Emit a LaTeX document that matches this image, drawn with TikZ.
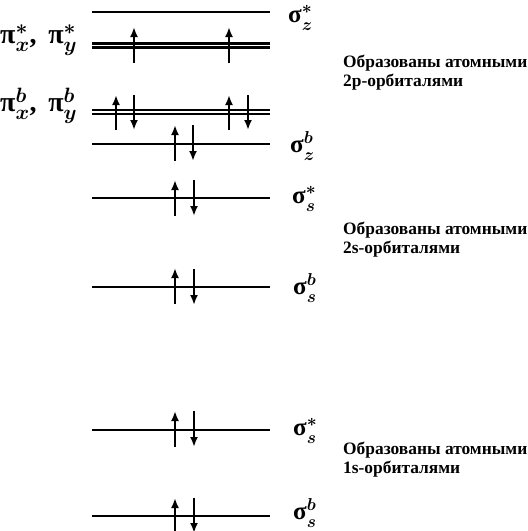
\documentclass[tikz,border=0pt]{standalone}
\usepackage{fontspec}
\usepackage{amsmath}
\setmainfont{Liberation Serif}
\usetikzlibrary{positioning, arrows.meta}

\tikzset{
  level/.style={black, line width=2.6pt},
  thinlevel/.style={black, line width=2pt},
  spinup/.style={black, line width=2.2pt, -{Latex[length=10pt,width=8pt]}},
  spindown/.style={black, line width=2.2pt, {Latex[length=10pt,width=8pt]}-},
  orblabel/.style={anchor=west, inner sep=0pt, font=\fontsize{25}{27}\selectfont\bfseries\boldmath},
  pilabel/.style={orblabel, font=\fontsize{28}{30}\selectfont\bfseries\boldmath},
  note/.style={anchor=west, inner sep=0pt, align=left, font=\fontsize{17.4}{19}\selectfont\bfseries}
}
\newcommand{\sig}[2]{$\mbox{σ}_{#1}^{#2}$}
\newcommand{\pipair}[1]{$\mbox{π}_{x}^{#1}$,\, $\mbox{π}_{y}^{#1}$}

\begin{document}
\begin{tikzpicture}[x=1pt, y=-1pt]
  \useasboundingbox (0,0) rectangle (528,531);
  % sigma_z antibonding
  \draw [thinlevel] (92,12) -- (270,12);
  \node [orblabel] (sz1) at (288,18) {\sig{z}{*}};
  % pi antibonding
  \draw [level] (92,43.5) -- (270,43.5);
  \draw [level] (92,47.5) -- (270,47.5);
  \draw [spinup] (134,63) -- (134,27);
  \draw [spinup] (229,63) -- (229,27);
  \node [pilabel] (px1) at (0,40) {\pipair{*}};
  % pi bonding
  \draw [level] (92,110) -- (270,110);
  \draw [level] (92,114) -- (270,114);
  \draw [spinup] (116,130) -- (116,95);
  \draw [spindown] (134,130) -- (134,95);
  \draw [spinup] (229,130) -- (229,95);
  \draw [spindown] (248,130) -- (248,95);
  \node [pilabel] (px2) at (0,106) {\pipair{b}};
  % sigma_z bonding
  \draw [level] (92,144) -- (270,144);
  \draw [spinup] (175,161) -- (175,125);
  \draw [spindown] (193,161) -- (193,125);
  \node [orblabel] (sz2) at (290,146) {\sig{z}{b}};
  % 2s
  \draw [level, line width=2.9pt] (92,198) -- (270,198);
  \draw [spinup] (175,216) -- (175,180);
  \draw [spindown] (194,216) -- (194,180);
  \node [orblabel] (ss1) at (292,199) {\sig{s}{*}};
  \draw [level] (92,287) -- (270,287);
  \draw [spinup] (175,304) -- (175,268);
  \draw [spindown] (194,305) -- (194,269);
  \node [orblabel] (ss2) at (293,288) {\sig{s}{b}};
  % 1s
  \draw [level] (92,430) -- (270,430);
  \draw [spinup] (175,447) -- (175,411);
  \draw [spindown] (194,447) -- (194,411);
  \node [orblabel] (ss3) at (293,431) {\sig{s}{*}};
  \draw [level, line width=2.9pt] (92,516) -- (270,516);
  \draw [spinup] (175,533) -- (175,498);
  \draw [spindown] (194,533) -- (194,498);
  \node [orblabel] (ss4) at (293,513) {\sig{s}{b}};
  % notes
  \node [note] (n2p) at (343,73) {Образованы атомными\\2p-орбиталями};
  \node [note] (n2s) at (343,240) {Образованы атомными\\2s-орбиталями};
  \node [note] (n1s) at (343,460) {Образованы атомными\\1s-орбиталями};
\end{tikzpicture}
\end{document}
